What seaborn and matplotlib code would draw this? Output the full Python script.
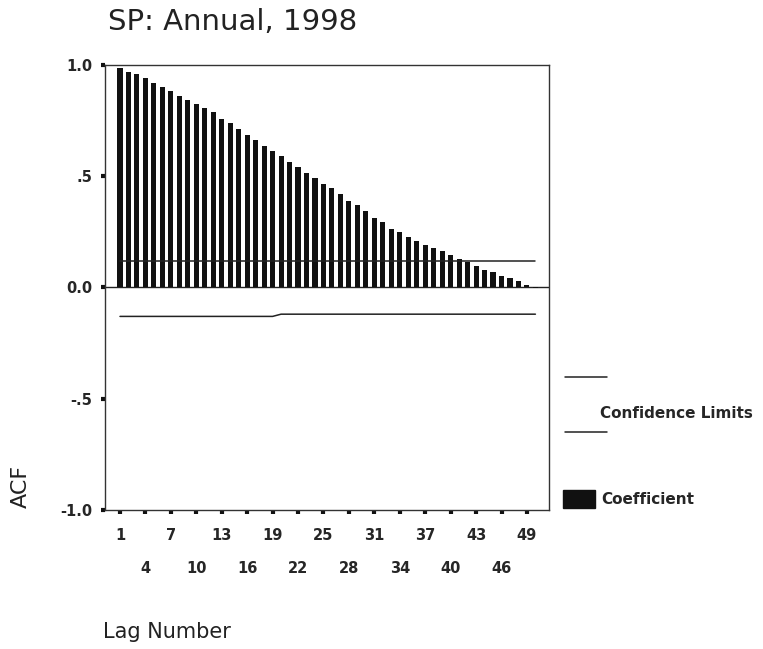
import matplotlib
matplotlib.use("Agg")
import matplotlib.pyplot as plt
from matplotlib.lines import Line2D
from matplotlib.patches import Rectangle
import pandas as pd
import seaborn as sns

# Autocorrelation function of the annual SP series
lags = list(range(1, 51))
acf = [0.986, 0.968, 0.959, 0.941, 0.919, 0.900, 0.883, 0.860, 0.842, 0.824,
       0.806, 0.788, 0.757, 0.739, 0.712, 0.685, 0.662, 0.635, 0.613, 0.590,
       0.563, 0.541, 0.514, 0.491, 0.466, 0.446, 0.419, 0.387, 0.369, 0.342,
       0.311, 0.293, 0.261, 0.248, 0.225, 0.207, 0.189, 0.176, 0.162, 0.144,
       0.126, 0.113, 0.095, 0.077, 0.068, 0.050, 0.041, 0.027, 0.012, -0.004]
conf_upper = [0.120] * 50
conf_lower = [-0.130] * 19 + [-0.120] * 31

ytick_vals = [-1.0, -0.5, 0.0, 0.5, 1.0]
ytick_text = ["-1.0", "-.5", "0.0", ".5", "1.0"]
xtick_row1 = [1, 7, 13, 19, 25, 31, 37, 43, 49]
xtick_row2 = [4, 10, 16, 22, 28, 34, 40, 46]

title = "SP: Annual, 1998"
xlabel = "Lag Number"
ylabel = "ACF"
legend_limits = "Confidence Limits"
legend_coef = "Coefficient"

df = pd.DataFrame({"lag": lags, "acf": acf, "upper": conf_upper, "lower": conf_lower})

sns.set_style("white")
plt.rcParams["font.family"] = ["DejaVu Sans"]

fig = plt.figure(figsize=(7.63, 6.49), dpi=100)
ax = fig.add_axes([0.1376, 0.2142, 0.5819, 0.6857])

ink = "#111111"
sns.barplot(data=df, x="lag", y="acf", native_scale=True, width=0.6,
            color=ink, saturation=1, linewidth=0, ax=ax)
sns.lineplot(data=df, x="lag", y="upper", color="#222222", lw=1.1, ax=ax)
sns.lineplot(data=df, x="lag", y="lower", color="#222222", lw=1.1, ax=ax)
ax.axhline(0, color="#222222", lw=1.0, zorder=0)

ax.set_xlim(-0.77, 51.6)
ax.set_ylim(-1.0, 1.0)

for s in ax.spines.values():
    s.set_visible(True)
    s.set_color("#333333")
    s.set_linewidth(1.0)

tick_font = dict(fontsize=10.5, fontweight="bold")
ax.set_yticks(ytick_vals)
ax.set_yticklabels(ytick_text, **tick_font)
ax.tick_params(axis="y", direction="out", length=3, width=3, color=ink, pad=6, left=True)

ax.set_xticks(xtick_row1)
ax.set_xticklabels([str(v) for v in xtick_row1], **tick_font)
ax.set_xticks(xtick_row2, minor=True)
ax.set_xticklabels([str(v) for v in xtick_row2], minor=True, **tick_font)
ax.tick_params(axis="x", which="major", direction="out", length=3, width=3, color=ink, pad=10, bottom=True)
ax.tick_params(axis="x", which="minor", direction="out", length=3, width=3, color=ink, pad=34, bottom=True)

ax.set_xlabel("")
ax.set_ylabel("")

fig.text(0.1415, 0.966, title, fontsize=21, va="center", ha="left", color="#222222")
fig.text(0.0275, 0.251, ylabel, fontsize=16, rotation=90, va="center", ha="center", color="#222222")
fig.text(0.135, 0.026, xlabel, fontsize=15, va="center", ha="left", color="#222222")

# legend drawn at the right-hand side
fig.add_artist(Line2D([0.7405, 0.7955], [0.4191, 0.4191], color="#222222", lw=1.1))
fig.add_artist(Line2D([0.7405, 0.7955], [0.3344, 0.3344], color="#222222", lw=1.1))
fig.text(0.7864, 0.3636, legend_limits, fontsize=11, fontweight="bold", va="center", ha="left")
fig.add_artist(Rectangle((0.7379, 0.2173), 0.0419, 0.0277, color=ink, transform=fig.transFigure))
fig.text(0.7877, 0.2311, legend_coef, fontsize=11, fontweight="bold", va="center", ha="left")

fig.savefig("out.png", dpi=100)
